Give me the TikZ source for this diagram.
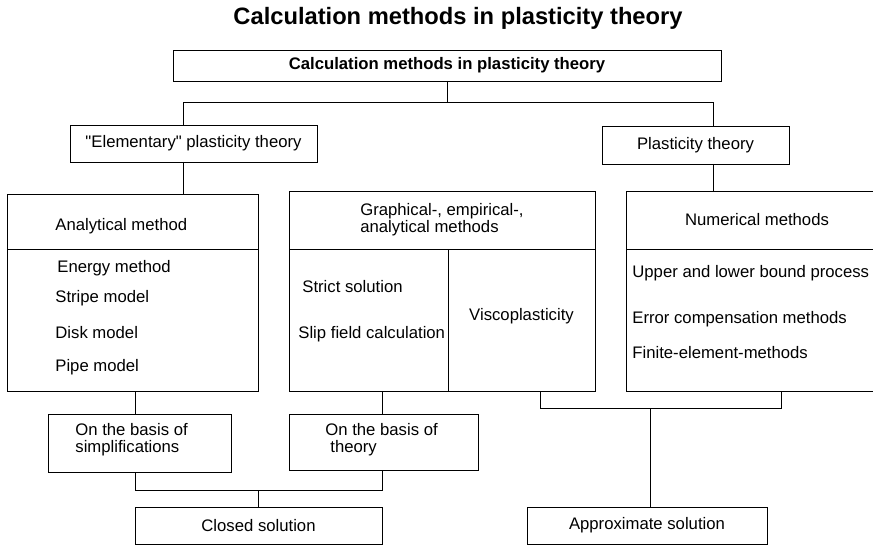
\documentclass[tikz,border=0pt]{standalone}
\usepackage{fontspec}
\newfontfamily\chartfont{Liberation Sans}
\begin{document}
\begin{tikzpicture}[
			x=1pt, y=-1pt,
			line width=0.8pt,
			font=\chartfont\fontsize{16.7}{17}\selectfont,
			box/.style 2 args={draw, inner sep=0pt, outer sep=0pt, minimum width=#1pt, minimum height=#2pt},
			item/.style={anchor=base west, inner sep=0pt}
		]
		\useasboundingbox (0,0) rectangle (873,545);
		\clip (0,0) rectangle (873,545);
		\node[anchor=base, inner sep=0pt, font=\chartfont\fontsize{23.7}{28}\selectfont\bfseries] (title) at (458,25) {Calculation methods in plasticity theory};
		\node[box={548}{31}, font=\chartfont\fontsize{16.7}{17}\selectfont\bfseries] (top) at (447,65.5) {Calculation methods in plasticity theory};
		\node[box={247}{37}] (elem) at (193.5,143.5) {"Elementary" plasticity theory};
		\node[box={187}{38}] (plast) at (695.5,145) {Plasticity theory};
		\node[box={251}{55}] (analh) at (132.5,221.5) {};
		\node[box={251}{142}] (analb) at (132.5,320) {};
		\node[box={306}{58}, align=left] (graphh) at (442,220) {Graphical-, empirical-,\\analytical methods};
		\node[box={159}{142}] (graphl) at (368.5,320) {};
		\node[box={147}{142}] (graphr) at (521.5,320) {};
		\node[box={262}{58}] (numh) at (757,220) {Numerical methods};
		\node[box={262}{142}] (numb) at (757,320) {};
		\node[box={183}{58}] (simp) at (139.5,443) {};
		\node[box={189}{56}] (theo) at (383.5,442) {};
		\node[box={247}{37}] (closed) at (258.5,525.5) {Closed solution};
		\node[box={240}{37}] (approx) at (647,525.5) {Approximate solution};
		\node[item] (analt) at (55,231) {Analytical method};
		\node[item] (energy) at (57,273) {Energy method};
		\node[item] (stripe) at (55,303) {Stripe model};
		\node[item] (disk) at (55,338) {Disk model};
		\node[item] (pipe) at (55,371) {Pipe model};
		\node[item] (strict) at (302,293) {Strict solution};
		\node[item] (slip) at (298,339) {Slip field calculation};
		\node[anchor=base, inner sep=0pt] (visc) at (521.5,321) {Viscoplasticity};
		\node[item] (upper) at (632,278) {Upper and lower bound process};
		\node[item] (error) at (632,324) {Error compensation methods};
		\node[item] (fem) at (632,359) {Finite-element-methods};
		\node[anchor=west, inner sep=0pt, align=left] (simpt) at (75,440) {On the basis of\\simplifications};
		\node[anchor=west, inner sep=0pt, align=left] (theot) at (325,440) {On the basis of\\\hspace*{5pt}theory};
		\coordinate (ta) at (183,102);
		\coordinate (tb) at (713,102);
		\coordinate (ba) at (135,490);
		\coordinate (bb) at (382,490);
		\coordinate (ra) at (540,408);
		\coordinate (rb) at (781,408);
		\coordinate (rc) at (650,408);
		\draw (top.south) -- (top.south |- ta);
		\draw (elem.north -| ta) -- (ta) -- (tb) -- (plast.north -| tb);
		\draw (elem.south -| ta) -- (analh.north -| ta);
		\draw (plast.south -| tb) -- (numh.north -| tb);
		\draw (analb.south -| ba) -- (simp.north -| ba);
		\draw (graphl.south -| bb) -- (theo.north -| bb);
		\draw (simp.south -| ba) -- (ba) -- (bb) -- (theo.south -| bb);
		\draw (closed.north) -- (closed.north |- ba);
		\draw (graphr.south -| ra) -- (ra) -- (rb) -- (numb.south -| rb);
		\draw (rc) -- (approx.north -| rc);
	\end{tikzpicture}
\end{document}
